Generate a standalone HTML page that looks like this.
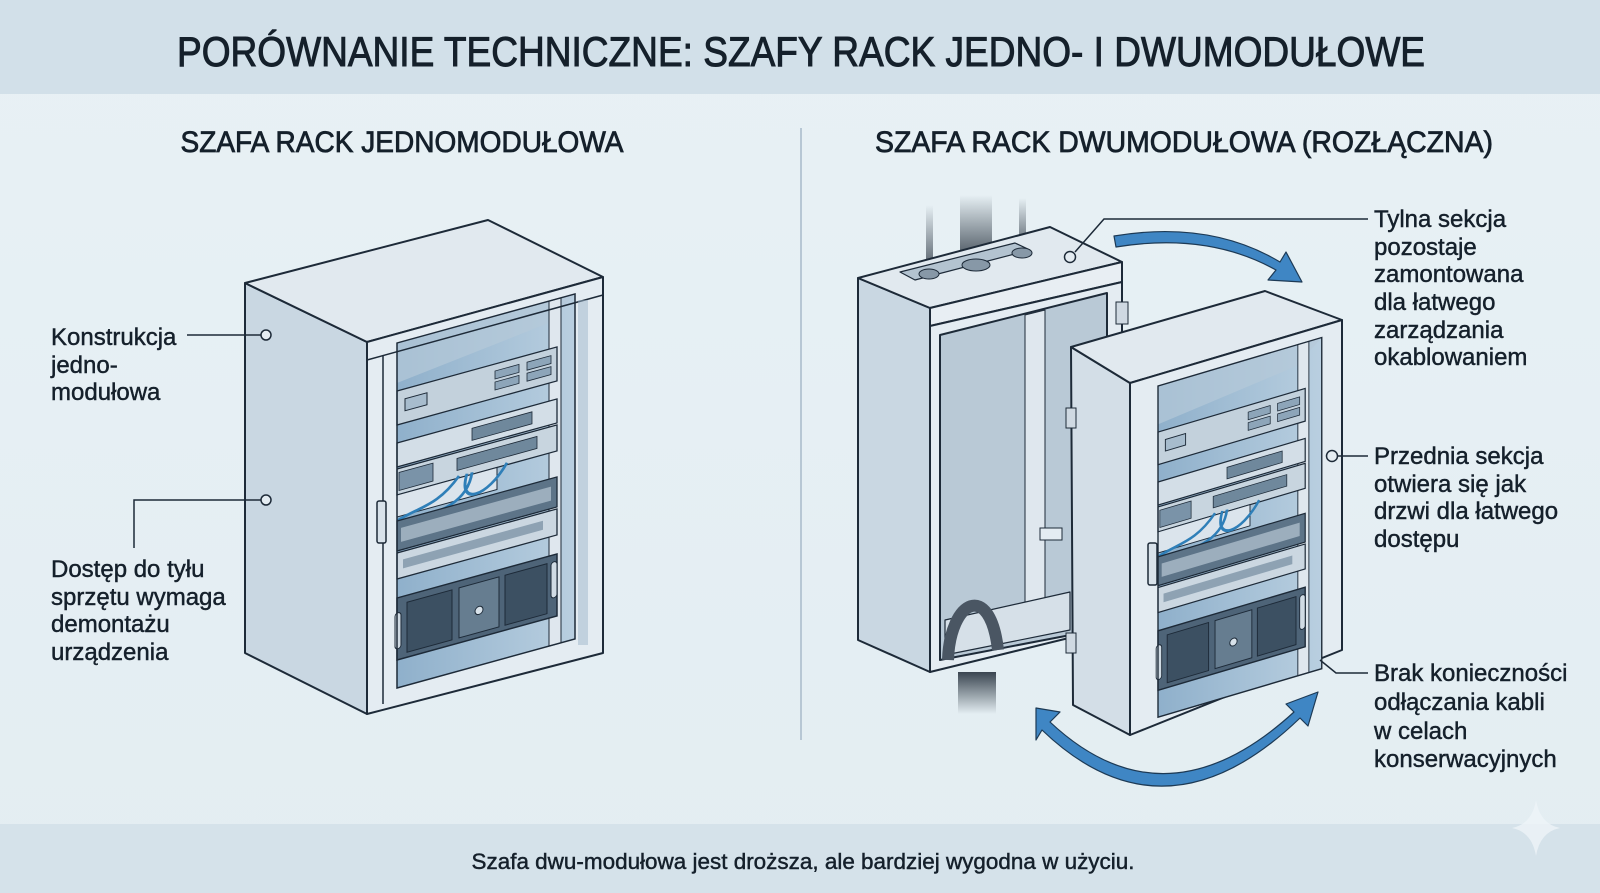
<!DOCTYPE html>
<html><head><meta charset="utf-8"><style>
html,body{margin:0;padding:0;background:#e6eff4;}
svg{display:block;}
text{font-family:"Liberation Sans",sans-serif;fill:#15202b;stroke:#15202b;stroke-width:0.45;}
</style></head><body>
<svg width="1600" height="893" viewBox="0 0 1600 893" xmlns="http://www.w3.org/2000/svg">
<defs>
<linearGradient id="bg" x1="0" y1="0" x2="0" y2="1"><stop offset="0" stop-color="#e8f1f5"/><stop offset="1" stop-color="#e3edf2"/></linearGradient>
<linearGradient id="inner" x1="0" y1="0" x2="1" y2="0"><stop offset="0" stop-color="#8fb0cb"/><stop offset="1" stop-color="#b9cfe0"/></linearGradient>
<linearGradient id="fadeUp" x1="0" y1="1" x2="0" y2="0"><stop offset="0" stop-color="#3a4550" stop-opacity="1"/><stop offset="1" stop-color="#3a4550" stop-opacity="0"/></linearGradient>
<linearGradient id="fadeDown" x1="0" y1="0" x2="0" y2="1"><stop offset="0" stop-color="#3a4550" stop-opacity="1"/><stop offset="1" stop-color="#3a4550" stop-opacity="0"/></linearGradient>
<g id="rack">
  <rect x="0" y="0" width="178" height="345" fill="url(#inner)"/>
  <polygon points="0,0 178,0 150,22 0,40" fill="#b5c9d9" opacity="0.7"/>
  <rect x="152" y="0" width="12" height="345" fill="#dfe7ee" stroke="#1d2a38" stroke-width="1"/>
  <rect x="0" y="48" width="160" height="34" fill="#c3d1dc" stroke="#1d2a38" stroke-width="1.3"/>
  <rect x="8" y="58" width="22" height="12" fill="#a7bccd" stroke="#1d2a38"/>
  <rect x="98" y="55" width="24" height="8" fill="#8da5b9" stroke="#1d2a38" stroke-width=".8"/>
  <rect x="98" y="66" width="24" height="8" fill="#8da5b9" stroke="#1d2a38" stroke-width=".8"/>
  <rect x="130" y="55" width="24" height="8" fill="#8da5b9" stroke="#1d2a38" stroke-width=".8"/>
  <rect x="130" y="66" width="24" height="8" fill="#8da5b9" stroke="#1d2a38" stroke-width=".8"/>
  <rect x="0" y="100" width="160" height="24" fill="#d3dee7" stroke="#1d2a38" stroke-width="1.3"/>
  <rect x="75" y="106" width="60" height="12" fill="#6f889c" stroke="#1d2a38" stroke-width=".8"/>
  <rect x="0" y="126" width="160" height="26" fill="#c8d5df" stroke="#1d2a38" stroke-width="1.3"/>
  <rect x="2" y="130" width="34" height="18" fill="#7a93a8" stroke="#1d2a38" stroke-width=".8"/>
  <rect x="60" y="132" width="80" height="12" fill="#6f889c" stroke="#1d2a38" stroke-width=".8"/>
  <rect x="0" y="152" width="100" height="22" fill="#dbe4ec" stroke="#1d2a38" stroke-width="1"/>
  <path d="M62 150 C40 175, 20 170, 0 178 M70 150 C60 180, 90 180, 110 150 M75 150 C70 185, 30 180, 5 182" stroke="#2f7fb8" stroke-width="3" fill="none"/>
  <rect x="0" y="178" width="160" height="30" fill="#5d7488" stroke="#1d2a38" stroke-width="1.3"/>
  <rect x="4" y="186" width="150" height="14" fill="#b8c8d4" opacity=".7"/>
  <rect x="0" y="210" width="160" height="26" fill="#cbd7e1" stroke="#1d2a38" stroke-width="1.3"/>
  <rect x="6" y="218" width="140" height="9" fill="#7e95a8" opacity=".8"/>
  <rect x="0" y="255" width="160" height="62" fill="#4e6478" stroke="#1d2a38" stroke-width="1.5"/>
  <rect x="10" y="262" width="45" height="50" fill="#3c5062" stroke="#1d2a38"/>
  <rect x="62" y="262" width="40" height="50" fill="#667d90" stroke="#1d2a38"/>
  <circle cx="82" cy="290" r="4" fill="#d8e2ea" stroke="#1d2a38"/>
  <rect x="108" y="262" width="42" height="50" fill="#3c5062" stroke="#1d2a38"/>
  <rect x="-2" y="270" width="6" height="36" rx="3" fill="#d0dbe4" stroke="#1d2a38"/>
  <rect x="154" y="262" width="6" height="36" rx="3" fill="#d0dbe4" stroke="#1d2a38"/>
  <rect x="0" y="0" width="178" height="345" fill="none" stroke="#1d2a38" stroke-width="1.5"/>
</g>
</defs>
<rect width="1600" height="893" fill="url(#bg)"/>
<rect x="0" y="0" width="1600" height="94" fill="#d2e0e9"/>
<text x="801" y="66" font-size="42" text-anchor="middle" textLength="1248" lengthAdjust="spacingAndGlyphs" style="stroke-width:1">PORÓWNANIE TECHNICZNE: SZAFY RACK JEDNO- I DWUMODUŁOWE</text>
<rect x="0" y="824" width="1600" height="69" fill="#d5e2ea"/>
<text x="803" y="869" font-size="22" text-anchor="middle" textLength="663" lengthAdjust="spacingAndGlyphs">Szafa dwu-modułowa jest droższa, ale bardziej wygodna w użyciu.</text>
<path d="M1536 800 Q1540 824 1560 828 Q1540 832 1536 856 Q1532 832 1512 828 Q1532 824 1536 800Z" fill="#eef4f8" opacity=".8"/>
<text x="402" y="152" font-size="30" text-anchor="middle" textLength="443" lengthAdjust="spacingAndGlyphs" style="stroke-width:0.8">SZAFA RACK JEDNOMODUŁOWA</text>
<text x="1184" y="152" font-size="30" text-anchor="middle" textLength="618" lengthAdjust="spacingAndGlyphs" style="stroke-width:0.8">SZAFA RACK DWUMODUŁOWA (ROZŁĄCZNA)</text>
<line x1="801" y1="128" x2="801" y2="740" stroke="#b7c7d4" stroke-width="2"/>

<!-- LEFT CABINET -->
<g stroke="#1d2a38" stroke-width="2" stroke-linejoin="round">
  <polygon points="245,283 367,342 367,714 245,653" fill="#c9d7e2"/>
  <polygon points="245,283 488,220 603,277 367,342" fill="#e1e9ef"/>
  <polygon points="367,342 603,277 603,653 367,714" fill="#e4ecf2"/>
</g>
<g transform="translate(397,343) skewY(-15.4)"><use href="#rack"/></g>
<g stroke="#1d2a38" stroke-width="1.5" fill="none">
  <line x1="367" y1="360" x2="603" y2="295"/>
  <line x1="383" y1="356" x2="383" y2="704"/>
</g>
<rect x="377" y="501" width="9" height="42" rx="2" fill="#d8e2ea" stroke="#1d2a38" stroke-width="1.5"/>
<rect x="578" y="300" width="10" height="345" fill="#9db6ca" opacity=".5"/>

<g font-size="24">
<text x="51" y="345">Konstrukcja</text>
<text x="51" y="373">jedno-</text>
<text x="51" y="400">modułowa</text>
<text x="51" y="577">Dostęp do tyłu</text>
<text x="51" y="605">sprzętu wymaga</text>
<text x="51" y="632">demontażu</text>
<text x="51" y="660">urządzenia</text>
</g>
<g stroke="#1d2a38" stroke-width="1.5" fill="none">
  <line x1="187" y1="335" x2="261" y2="335"/><circle cx="266" cy="335" r="5" fill="#e4ecf2"/>
  <polyline points="134,548 134,500 261,500"/><circle cx="266" cy="500" r="5" fill="#e4ecf2"/>
</g>

<!-- RIGHT: back cabinet cables -->
<g>
  <rect x="926" y="205" width="7" height="75" fill="url(#fadeUp)"/>
  <rect x="960" y="195" width="32" height="70" fill="url(#fadeUp)"/>
  <rect x="1019" y="198" width="7" height="60" fill="url(#fadeUp)"/>
  <rect x="958" y="672" width="38" height="42" fill="url(#fadeDown)"/>
</g>
<g stroke="#1d2a38" stroke-width="2" stroke-linejoin="round">
  <polygon points="858,278 930,308 930,672 858,640" fill="#c9d7e2"/>
  <polygon points="858,278 1050,227 1122,262 930,308" fill="#e1e9ef"/>
  <polygon points="930,308 1122,262 1122,282 930,326" fill="#e8eef3"/>
  <polygon points="930,326 1122,282 1122,625 930,672" fill="#e4ecf2"/>
  <polygon points="940,335 1107,293 1107,628 940,660" fill="#b9c9d6"/>
  <polygon points="1025,315 1045,310 1045,600 1025,604" fill="#dfe7ee" stroke-width="1"/>
  <polygon points="945,620 1070,592 1070,630 945,655" fill="#d6e0e8" stroke-width="1.2"/>
  <polygon points="900,272 1015,243 1030,250 915,280" fill="#b3c3d0" stroke-width="1.2"/>
</g>
<path d="M948 660 C950 600, 990 580, 998 650" stroke="#4a5663" stroke-width="12" fill="none"/>
<ellipse cx="929" cy="274" rx="10" ry="5" fill="#8798a7" stroke="#1d2a38"/>
<ellipse cx="976" cy="265" rx="14" ry="6" fill="#8798a7" stroke="#1d2a38"/>
<ellipse cx="1022" cy="253" rx="10" ry="5" fill="#8798a7" stroke="#1d2a38"/>
<rect x="1040" y="528" width="22" height="12" fill="#e4ecf2" stroke="#1d2a38"/>
<rect x="1116" y="302" width="12" height="22" fill="#cfd9e2" stroke="#1d2a38"/>

<!-- RIGHT: front module -->
<g stroke="#1d2a38" stroke-width="2" stroke-linejoin="round">
  <polygon points="1071,347 1130,383 1130,735 1073,705" fill="#d3dee7"/>
  <polygon points="1071,347 1265,291 1342,320 1130,383" fill="#e1e9ef"/>
  <polygon points="1130,383 1342,320 1342,650 1130,735" fill="#e4ecf2"/>
</g>
<g transform="translate(1158,386) skewY(-16.5) scale(0.92,0.96)"><use href="#rack"/></g>
<rect x="1148" y="543" width="9" height="42" rx="2" fill="#d8e2ea" stroke="#1d2a38" stroke-width="1.5"/>
<rect x="1066" y="408" width="10" height="20" fill="#cfd9e2" stroke="#1d2a38"/>
<rect x="1066" y="633" width="10" height="20" fill="#cfd9e2" stroke="#1d2a38"/>

<g fill="#3f86c4" stroke="#1d3a55" stroke-width="1.2" stroke-linejoin="round">
  <path d="M1114 236 Q1210 220 1280 262 L1286 252 L1302 282 L1268 280 L1276 270 Q1208 232 1116 247 Z"/>
  <path d="M1050 722 Q1165 830 1294 712 L1286 704 L1318 692 L1308 726 L1300 718 Q1165 848 1042 730 L1036 740 L1036 708 L1060 712 Z"/>
</g>

<g font-size="24">
<text x="1374" y="227">Tylna sekcja</text>
<text x="1374" y="255">pozostaje</text>
<text x="1374" y="282">zamontowana</text>
<text x="1374" y="310">dla łatwego</text>
<text x="1374" y="338">zarządzania</text>
<text x="1374" y="365">okablowaniem</text>
<text x="1374" y="464">Przednia sekcja</text>
<text x="1374" y="492">otwiera się jak</text>
<text x="1374" y="519">drzwi dla łatwego</text>
<text x="1374" y="547">dostępu</text>
<text x="1374" y="681">Brak konieczności</text>
<text x="1374" y="710">odłączania kabli</text>
<text x="1374" y="739">w celach</text>
<text x="1374" y="767">konserwacyjnych</text>
</g>
<g stroke="#1d2a38" stroke-width="1.5" fill="none">
  <polyline points="1075,252 1104,219 1368,219"/><circle cx="1070" cy="257" r="5.5" fill="#e4ecf2"/>
  <line x1="1338" y1="456" x2="1368" y2="456"/><circle cx="1332" cy="456" r="5.5" fill="#e4ecf2"/>
  <polyline points="1320,660 1336,673 1368,673"/>
</g>
</svg>
</body></html>
